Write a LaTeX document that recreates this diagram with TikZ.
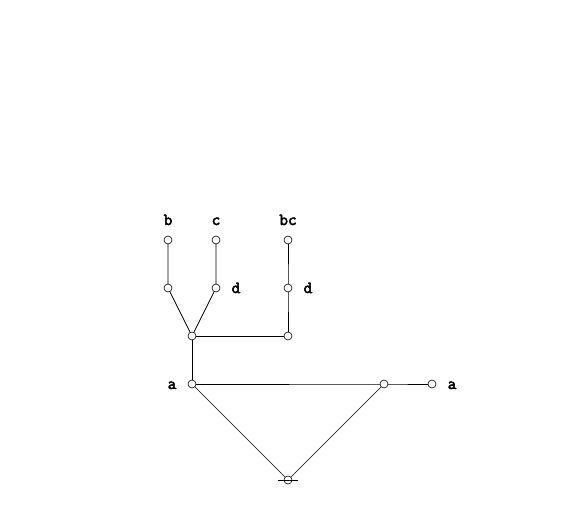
\documentclass[tikz,border=0pt]{standalone}
\usepackage{fontspec}
\newfontfamily\labfont[FakeBold=3]{Latin Modern Mono}
\begin{document}
\begin{tikzpicture}[x=1bp,y=-1bp,
  pt/.style={circle,draw,fill=white,inner sep=0pt,minimum size=8bp,line width=0.6pt},
  lbl/.style={font=\labfont\fontsize{17}{17}\selectfont,inner sep=0pt,anchor=base},
  edge/.style={line width=0.7pt}]
\useasboundingbox (0,0) rectangle (578,530);
\coordinate (B1) at (168,240);
\coordinate (C1) at (216,240);
\coordinate (BC1) at (288,240);
\coordinate (B2) at (168,288);
\coordinate (C2) at (216,288);
\coordinate (BC2) at (288,288);
\coordinate (J) at (192,336);
\coordinate (J2) at (288,336);
\coordinate (A) at (192,384);
\coordinate (R) at (384,384);
\coordinate (RA) at (432,384);
\coordinate (Bot) at (288,480);
\coordinate (BotL) at (278,480);
\coordinate (BotR) at (298,480);
\draw[edge] (B1) -- (B2) -- (J) -- (C2) -- (C1);
\draw[edge] (BC1) -- (BC2) -- (J2) -- (J) -- (A) -- (R) -- (RA);
\draw[line width=0.5pt] (A) -- (Bot) -- (R);
\foreach \p in {B1,C1,BC1,B2,C2,BC2,J,J2,A,R,RA,Bot}
  \node[pt] (n\p) at (\p) {};
\draw[edge] (BotL) -- (BotR);
\node[lbl] (lb) at (168,225) {b};
\node[lbl] (lc) at (216,225) {c};
\node[lbl] (lbc) at (288,225) {bc};
\node[lbl] (ld1) at (236,293) {d};
\node[lbl] (ld2) at (308,293) {d};
\node[lbl] (la1) at (172,389) {a};
\node[lbl] (la2) at (452,389) {a};
\end{tikzpicture}
\end{document}
